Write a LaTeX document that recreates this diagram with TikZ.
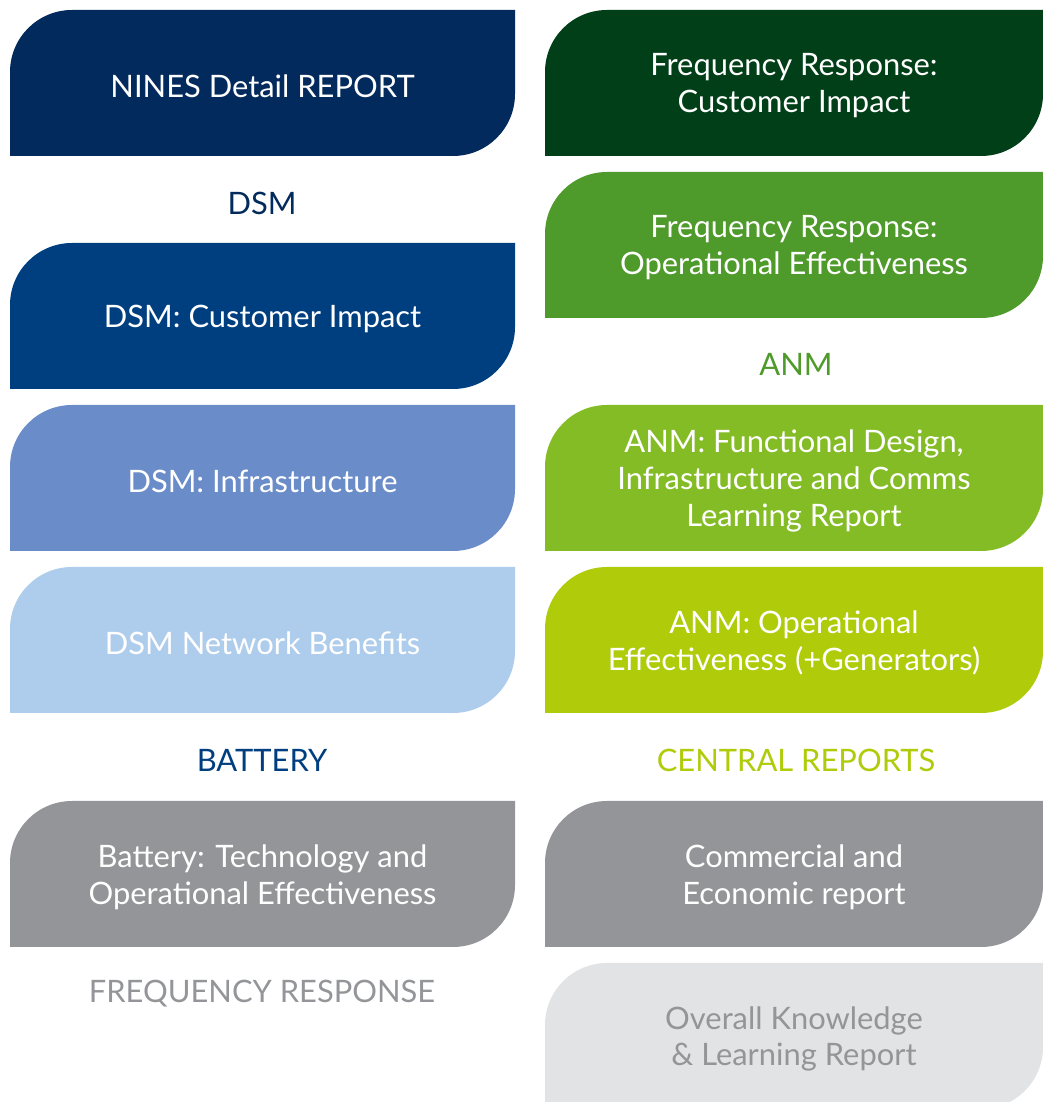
\documentclass[tikz,border=0pt]{standalone}
\usepackage{fontspec}
\setmainfont{Lato}
\definecolor{navy}{HTML}{032A5C}
\definecolor{dsmblue}{HTML}{003F7F}
\definecolor{midblue}{HTML}{6A8CC8}
\definecolor{lightblue}{HTML}{AECCEB}
\definecolor{greyb}{HTML}{939598}
\definecolor{lightgrey}{HTML}{E2E3E4}
\definecolor{darkgreen}{HTML}{003F17}
\definecolor{midgreen}{HTML}{4E9A2A}
\definecolor{limegreen}{HTML}{84BC26}
\definecolor{yellowgreen}{HTML}{AFCB0A}
\newcommand\rbox[6]{% name, x0, x1, ytop(px), fill, text colour
  \pgfmathsetmacro\T{1102-#4}
  \pgfmathsetmacro\B{1102-#4-146}
  \fill[#5] (#2,\B) -- (#2,\T-62) arc[start angle=180,end angle=90,radius=62]
     -- (#3,\T) -- (#3,\B+62) arc[start angle=0,end angle=-90,radius=62] -- cycle;
  \node[boxtext,#6] (#1) at ({(#2+#3)/2},{(\T+\B)/2-3}) {\csname rbtext#1\endcsname};
}
\tikzset{boxtext/.style={align=center,font=\fontsize{31}{37}\selectfont,inner sep=0pt},
  headtext/.style={font=\fontsize{31}{37}\selectfont,inner sep=0pt}}
\begin{document}
\begin{tikzpicture}[x=1bp,y=1bp]
\useasboundingbox (0,0) rectangle (1043,1102);
\clip (0,0) rectangle (1043,1102);
\expandafter\def\csname rbtextnines\endcsname{NINES Detail REPORT}
\expandafter\def\csname rbtextdsmci\endcsname{DSM: Customer Impact}
\expandafter\def\csname rbtextdsmin\endcsname{DSM: Infrastructure}
\expandafter\def\csname rbtextdsmnb\endcsname{DSM Network Benefits}
\expandafter\def\csname rbtextbat\endcsname{Battery: Technology and\\Operational Effectiveness}
\expandafter\def\csname rbtextfrci\endcsname{Frequency Response:\\Customer Impact}
\expandafter\def\csname rbtextfroe\endcsname{Frequency Response:\\Operational Effectiveness}
\expandafter\def\csname rbtextanmfd\endcsname{ANM: Functional Design,\\Infrastructure and Comms\\Learning Report}
\expandafter\def\csname rbtextanmoe\endcsname{ANM: Operational\\Effectiveness (+Generators)}
\expandafter\def\csname rbtextcer\endcsname{Commercial and\\Economic report}
\expandafter\def\csname rbtextokl\endcsname{Overall Knowledge\\\& Learning Report}
\rbox{nines}{10}{515}{10}{navy}{white}
\rbox{dsmci}{10}{515}{243}{dsmblue}{white}
\rbox{dsmin}{10}{515}{405}{midblue}{white}
\rbox{dsmnb}{10}{515}{567}{lightblue}{white}
\rbox{bat}{10}{515}{801}{greyb}{white}
\rbox{frci}{545}{1043}{10}{darkgreen}{white}
\rbox{froe}{545}{1043}{172}{midgreen}{white}
\rbox{anmfd}{545}{1043}{405}{limegreen}{white}
\rbox{anmoe}{545}{1043}{567}{yellowgreen}{white}
\rbox{cer}{545}{1043}{801}{greyb}{white}
\rbox{okl}{545}{1043}{963}{lightgrey}{greyb}
\node[headtext,text=navy] (hdsm) at (262,1102-203) {DSM};
\node[headtext,text=dsmblue] (hbat) at (262,1102-760) {BATTERY};
\node[headtext,text=greyb] (hfr) at (262,1102-994) {FREQUENCY RESPONSE};
\node[headtext,text=midgreen] (hanm) at (796,1102-364) {ANM};
\node[headtext,text=yellowgreen] (hcr) at (796,1102-760) {CENTRAL REPORTS};
\end{tikzpicture}
\end{document}
